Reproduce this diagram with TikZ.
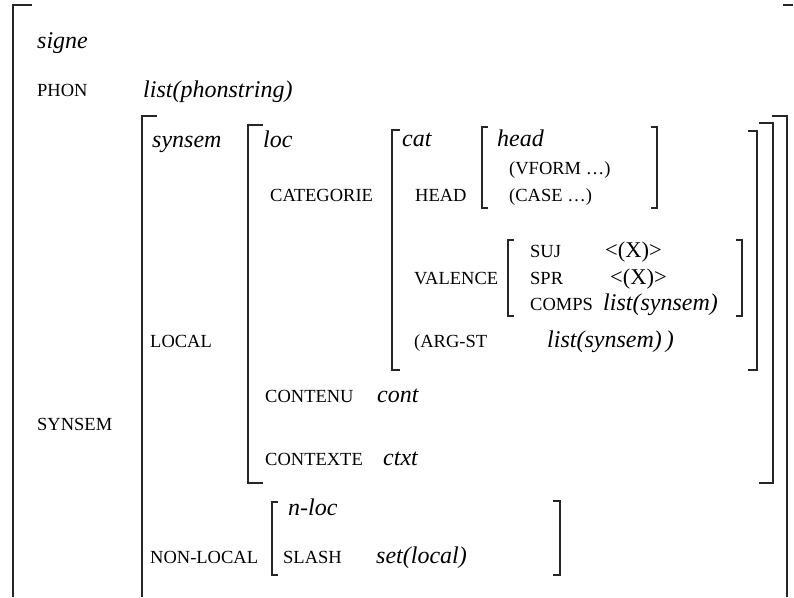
\documentclass[tikz,border=0pt]{standalone}
\usepackage{fontspec}
\setmainfont{Liberation Serif}
\begin{document}
\begin{tikzpicture}[x=1pt,y=-1pt,
  lab/.style={anchor=base west,inner sep=0pt,font=\fontsize{18.5}{20}\selectfont},
  typ/.style={anchor=base west,inner sep=0pt,font=\fontsize{24}{26}\selectfont\itshape},
  sym/.style={anchor=base west,inner sep=0pt,font=\fontsize{22.5}{24}\selectfont},
  bk/.style={line width=1.4pt,draw=black!85}]
\useasboundingbox (0,0) rectangle (794,597);
% outer brackets
\draw[bk] (32,5) -- (13,5) -- (13,597);
\draw[bk] (783,5) -- (793,5);
% synsem
\draw[bk] (157,116) -- (142,116) -- (142,597);
\draw[bk] (772,116) -- (787,116) -- (787,597);
% loc
\draw[bk] (263,125) -- (248,125) -- (248,483) -- (263,483);
\draw[bk] (759,123) -- (773,123) -- (773,483) -- (759,483);
% cat
\draw[bk] (400,130) -- (392,130) -- (392,370) -- (400,370);
\draw[bk] (748,131) -- (757,131) -- (757,370) -- (748,370);
% head
\draw[bk] (488,127) -- (482,127) -- (482,208) -- (488,208);
\draw[bk] (651,127) -- (657,127) -- (657,208) -- (651,208);
% valence
\draw[bk] (514,240) -- (508,240) -- (508,316) -- (514,316);
\draw[bk] (736,240) -- (742,240) -- (742,316) -- (736,316);
% n-loc
\draw[bk] (278,502) -- (272,502) -- (272,575) -- (278,575);
\draw[bk] (553,501) -- (560,501) -- (560,575) -- (553,575);

\node[typ] (signe) at (37,48) {signe};
\node[lab] (phon) at (37,96) {PHON};
\node[typ] (phonv) at (143,97) {list(phonstring)};
\node[typ] (synsemt) at (152,147) {synsem};
\node[typ] (loct) at (263,147) {loc};
\node[typ] (catt) at (402,146) {cat};
\node[typ] (headt) at (497,146) {head};
\node[lab] (categorie) at (270,201) {CATEGORIE};
\node[lab] (vform) at (509,174) {(VFORM \ldots)};
\node[lab] (headl) at (415,201) {HEAD};
\node[lab] (case) at (509,201) {(CASE \ldots)};
\node[lab] (suj) at (530,257) {SUJ};
\node[sym] (sujv) at (605,257) {<(X)>};
\node[lab] (valence) at (414,284) {VALENCE};
\node[lab] (spr) at (530,284) {SPR};
\node[sym] (sprv) at (610,284) {<(X)>};
\node[lab] (comps) at (530,310) {COMPS};
\node[typ] (compsv) at (603,310) {list(synsem)};
\node[lab] (argst) at (414,347) {(ARG-ST};
\node[typ] (argstv) at (547,347) {list(synsem)\,)};
\node[lab] (local) at (150,347) {LOCAL};
\node[lab] (contenu) at (265,402) {CONTENU};
\node[typ] (cont) at (377,402) {cont};
\node[lab] (synseml) at (37,430) {SYNSEM};
\node[lab] (contexte) at (265,465) {CONTEXTE};
\node[typ] (ctxt) at (383,465) {ctxt};
\node[typ] (nloc) at (288,515) {n-loc};
\node[lab] (nonlocal) at (150,563) {NON-LOCAL};
\node[lab] (slash) at (283,563) {SLASH};
\node[typ] (setl) at (376,563) {set(local)};
\end{tikzpicture}
\end{document}
